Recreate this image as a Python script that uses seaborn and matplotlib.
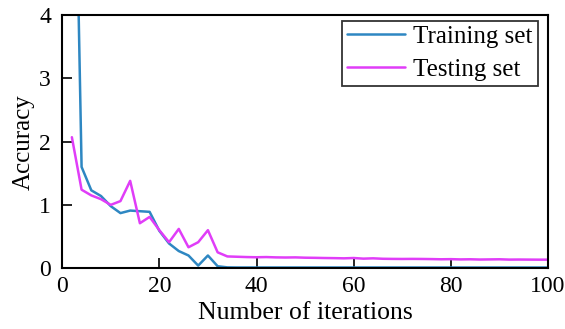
import numpy as np
import pandas as pd
import matplotlib
matplotlib.use("Agg")
import matplotlib.pyplot as plt
import seaborn as sns

# ---- data ----
iterations = list(range(2, 101, 2))

train_acc = [9.6, 1.60, 1.23, 1.14, 0.98, 0.87, 0.91, 0.90, 0.89, 0.59,
             0.39, 0.27, 0.20, 0.04, 0.20, 0.03, 0.012, 0.01, 0.01, 0.01,
             0.01, 0.01, 0.01, 0.01, 0.01, 0.01, 0.01, 0.01, 0.01, 0.01,
             0.01, 0.01, 0.01, 0.01, 0.01, 0.01, 0.01, 0.01, 0.01, 0.01,
             0.01, 0.01, 0.01, 0.01, 0.01, 0.01, 0.01, 0.01, 0.01, 0.01]

test_acc = [2.07, 1.24, 1.15, 1.09, 1.00, 1.06, 1.38, 0.71, 0.81, 0.60,
            0.41, 0.62, 0.33, 0.41, 0.60, 0.25, 0.185, 0.18, 0.175, 0.172,
            0.175, 0.170, 0.168, 0.170, 0.165, 0.163, 0.160, 0.158, 0.155, 0.160,
            0.150, 0.155, 0.148, 0.146, 0.145, 0.146, 0.145, 0.143, 0.140, 0.142,
            0.138, 0.140, 0.136, 0.138, 0.140, 0.135, 0.136, 0.135, 0.134, 0.134]

series_names = ["Training set", "Testing set"]
colors = ["#2E87C2", "#E03DF8"]

df = pd.concat([
    pd.DataFrame({"iter": iterations, "acc": train_acc, "set": series_names[0]}),
    pd.DataFrame({"iter": iterations, "acc": test_acc, "set": series_names[1]}),
])

# ---- plot ----
sns.set_style("ticks")
plt.rcParams['font.family'] = ['Liberation Serif', 'DejaVu Serif']
for k in ['text.color', 'axes.labelcolor', 'xtick.color', 'ytick.color', 'axes.edgecolor']:
    plt.rcParams[k] = 'black'

fig = plt.figure(figsize=(5.65, 3.29), dpi=100)
ax = fig.add_axes([0.110, 0.185, 0.860, 0.769])

sns.lineplot(data=df, x="iter", y="acc", hue="set", palette=colors,
             linewidth=1.8, ax=ax, legend=True)

ax.set_xlim(0, 100)
ax.set_ylim(0, 4)
ax.set_xticks([0, 20, 40, 60, 80, 100])
ax.set_yticks([0, 1, 2, 3, 4])
ax.set_xlabel("Number of iterations", fontsize=18.5, labelpad=3)
ax.set_ylabel("Accuracy", fontsize=18, labelpad=3)
ax.tick_params(direction="in", length=7, width=1.2, labelsize=17,
               top=False, right=False)
ax.tick_params(axis="x", pad=6)
ax.tick_params(axis="y", pad=8)
for sp in ax.spines.values():
    sp.set_linewidth(1.5)
    sp.set_color("black")

leg = ax.legend(loc="upper right", bbox_to_anchor=(0.979, 0.978),
                fontsize=18, frameon=True, fancybox=False,
                edgecolor="black", handlelength=2.33, handletextpad=0.32,
                borderpad=0.2, labelspacing=0.4, borderaxespad=0)
leg.get_frame().set_linewidth(1.3)

fig.savefig("out.png", dpi=100)
